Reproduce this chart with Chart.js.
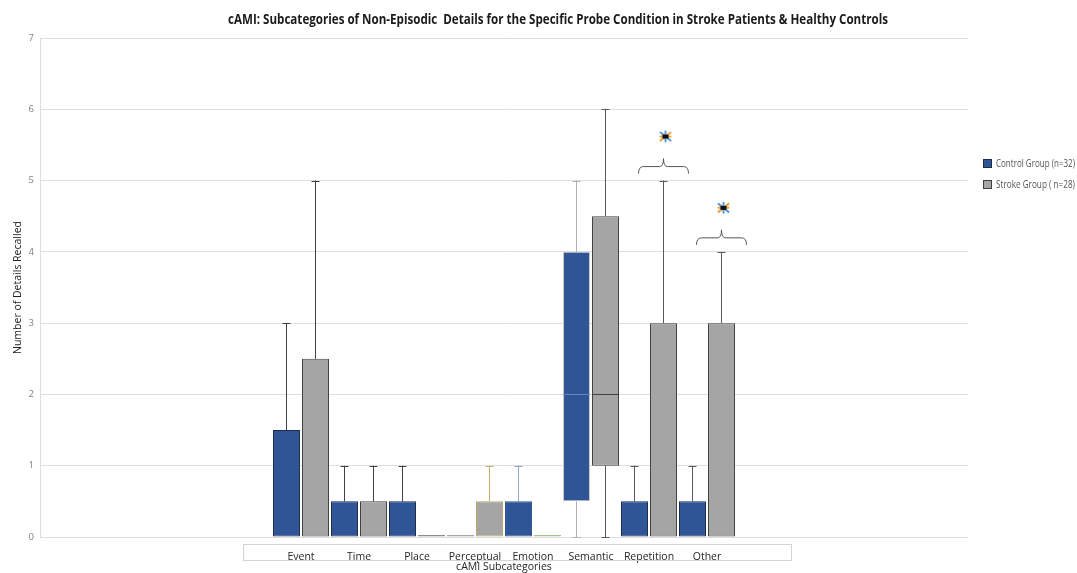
<!DOCTYPE html>
<html>
<head>
<meta charset="utf-8">
<script src="https://cdn.jsdelivr.net/npm/chart.js@4.4.1/dist/chart.umd.min.js"></script>
<style>
  html, body { margin: 0; padding: 0; background: #ffffff; }
  #wrap { width: 1077px; height: 573px; position: relative; }
</style>
</head>
<body>
<div id="wrap"><canvas id="c" width="1077" height="573"></canvas></div>
<script>
// Subcategories of non-episodic details (cAMI, specific probe condition)
const categories = ['Event', 'Time', 'Place', 'Perceptual', 'Emotion', 'Semantic', 'Repetition', 'Other'];

// Control group (n=32): box (Q1..Q3), median, whisker range
const controlQ1     = [0,   0,   0,   0, 0,   0.5, 0,   0  ];
const controlQ3     = [1.5, 0.5, 0.5, 0, 0.5, 4,   0.5, 0.5];
const controlMedian = [0,   0,   0,   0, 0,   2,   0,   0  ];
const controlMin    = [0,   0,   0,   0, 0,   0,   0,   0  ];
const controlMax    = [3,   1,   1,   0, 1,   5,   1,   1  ];

// Stroke group (n=28)
const strokeQ1     = [0,   0,   0, 0,   0, 1,   0, 0];
const strokeQ3     = [2.5, 0.5, 0, 0.5, 0, 4.5, 3, 3];
const strokeMedian = [0,   0,   0, 0,   0, 2,   0, 0];
const strokeMin    = [0,   0,   0, 0,   0, 0,   0, 0];
const strokeMax    = [5,   1,   0, 1,   0, 6,   5, 4];

// Group differences marked as significant
const significant = [false, false, false, false, false, false, true, true];

const yTicks = [0, 1, 2, 3, 4, 5, 6, 7];

// Empty slots on either side of the categories on the x axis
const PAD = 4;
const padArr = (arr, fill) => Array(PAD).fill(fill).concat(arr).concat(Array(PAD).fill(fill));
const labels = padArr(categories, '');

const FONT = "'Open Sans', 'Noto Sans', sans-serif";

const controlBorder  = ['#1c2b47', '#1c2b47', '#1c2b47', '#a6a6a6', '#2f5597', '#c8c8c8', '#1c2b47', '#1c2b47'];
const strokeBorder   = ['#404040', '#404040', '#8c8c8c', '#c0a462', '#a9c08a', '#404040', '#404040', '#404040'];
const controlWhisker = ['#404040', '#404040', '#404040', '#a6a6a6', '#8ea9cf', '#b0b0b0', '#595959', '#595959'];
const strokeWhisker  = ['#404040', '#404040', '#8c8c8c', '#c9ad6a', '#a9c08a', '#595959', '#595959', '#595959'];

const groups = [
  { q1: controlQ1, q3: controlQ3, med: controlMedian, lo: controlMin, hi: controlMax, whisker: controlWhisker, medColor: '#6f84ad' },
  { q1: strokeQ1,  q3: strokeQ3,  med: strokeMedian,  lo: strokeMin,  hi: strokeMax,  whisker: strokeWhisker,  medColor: '#404040' }
];

// Whiskers with end caps, drawn behind the boxes
const whiskerPlugin = {
  id: 'whiskers',
  beforeDatasetsDraw(chart) {
    const ctx = chart.ctx, y = chart.scales.y;
    groups.forEach((g, di) => {
      const meta = chart.getDatasetMeta(di);
      categories.forEach((_, k) => {
        const el = meta.data[k + PAD];
        if (!el) return;
        const x = el.x;
        ctx.save();
        ctx.strokeStyle = g.whisker[k];
        ctx.lineWidth = 1;
        const segs = [];
        if (g.hi[k] > g.q3[k]) segs.push([g.q3[k], g.hi[k]]);
        if (g.lo[k] < g.q1[k]) segs.push([g.lo[k], g.q1[k]]);
        segs.forEach(([a, b]) => {
          ctx.beginPath();
          ctx.moveTo(x, y.getPixelForValue(a));
          ctx.lineTo(x, y.getPixelForValue(b));
          ctx.stroke();
        });
        const caps = [];
        if (g.hi[k] > g.q3[k]) caps.push(g.hi[k]);
        if (g.lo[k] < g.q1[k]) caps.push(g.lo[k]);
        caps.forEach(v => {
          const py = Math.round(y.getPixelForValue(v)) + 0.5;
          ctx.beginPath();
          ctx.moveTo(x - 4, py);
          ctx.lineTo(x + 4, py);
          ctx.stroke();
        });
        ctx.restore();
      });
    });
  },
  afterDatasetsDraw(chart) {
    const ctx = chart.ctx, y = chart.scales.y;
    groups.forEach((g, di) => {
      const meta = chart.getDatasetMeta(di);
      categories.forEach((_, k) => {
        const el = meta.data[k + PAD];
        if (!el) return;
        if (!(g.med[k] > g.q1[k] && g.med[k] < g.q3[k])) return;
        const py = Math.round(y.getPixelForValue(g.med[k])) + 0.5;
        ctx.save();
        ctx.strokeStyle = g.medColor;
        ctx.lineWidth = 1;
        ctx.beginPath();
        ctx.moveTo(el.x - el.width / 2, py);
        ctx.lineTo(el.x + el.width / 2, py);
        ctx.stroke();
        ctx.restore();
      });
    });
  }
};

// Brace and star above the stroke-group whisker where the difference is significant
function drawStar(ctx, cx, cy) {
  ctx.save();
  ctx.lineWidth = 2;
  ctx.lineCap = 'round';
  ctx.strokeStyle = '#5b9bd5';
  ctx.beginPath(); ctx.moveTo(cx - 5, cy - 4); ctx.lineTo(cx + 5, cy + 4); ctx.stroke();
  ctx.beginPath(); ctx.moveTo(cx, cy - 5); ctx.lineTo(cx, cy + 5); ctx.stroke();
  ctx.strokeStyle = '#f0a040';
  ctx.beginPath(); ctx.moveTo(cx + 5, cy - 4); ctx.lineTo(cx - 5, cy + 4); ctx.stroke();
  ctx.beginPath(); ctx.moveTo(cx - 5, cy); ctx.lineTo(cx + 5, cy); ctx.stroke();
  ctx.fillStyle = '#111111';
  ctx.fillRect(cx - 3, cy - 2, 6, 4);
  ctx.restore();
}

const sigPlugin = {
  id: 'significance',
  afterDatasetsDraw(chart) {
    const ctx = chart.ctx, y = chart.scales.y;
    const meta = chart.getDatasetMeta(1);
    categories.forEach((_, k) => {
      if (!significant[k]) return;
      const el = meta.data[k + PAD];
      const x = el.x;
      const top = y.getPixelForValue(Math.max(strokeMax[k], controlMax[k]));
      const endY = top - 7, midY = top - 14, tipY = top - 22, w = 25;
      ctx.save();
      ctx.strokeStyle = '#555555';
      ctx.lineWidth = 1;
      ctx.beginPath();
      ctx.moveTo(x - w, endY);
      ctx.quadraticCurveTo(x - w, midY, x - w + 5, midY);
      ctx.lineTo(x - 4, midY);
      ctx.quadraticCurveTo(x, midY, x, tipY);
      ctx.quadraticCurveTo(x, midY, x + 4, midY);
      ctx.lineTo(x + w - 5, midY);
      ctx.quadraticCurveTo(x + w, midY, x + w, endY);
      ctx.stroke();
      ctx.restore();
      drawStar(ctx, x + 2, top - 44);
    });
  }
};

// Title, legend and the frame around the category labels
const decorPlugin = {
  id: 'decor',
  afterDraw(chart) {
    const ctx = chart.ctx, xs = chart.scales.x;
    ctx.save();
    ctx.fillStyle = '#1a1a1a';
    ctx.font = `bold 14px ${FONT}`;
    ctx.textAlign = 'center';
    ctx.textBaseline = 'middle';
    ctx.fillText('cAMI: Subcategories of Non-Episodic  Details for the Specific Probe Condition in Stroke Patients & Healthy Controls', 558, 20, 660);

    // frame around category labels
    const step = xs.getPixelForValue(1) - xs.getPixelForValue(0);
    const left = Math.round(xs.getPixelForValue(PAD - 1)) + 0.5;
    const right = Math.round(xs.getPixelForValue(PAD + categories.length) + 0.45 * step) + 0.5;
    ctx.strokeStyle = '#d4d4d4';
    ctx.lineWidth = 1;
    ctx.strokeRect(left, 544.5, right - left, 16);

    // legend
    const items = [
      { text: 'Control Group (n=32)', fill: '#2f5597', border: '#1c2b47' },
      { text: 'Stroke Group ( n=28)', fill: '#a5a5a5', border: '#404040' }
    ];
    ctx.font = `10px ${FONT}`;
    ctx.textAlign = 'left';
    items.forEach((it, i) => {
      const yy = 164 + i * 21;
      ctx.fillStyle = it.fill;
      ctx.fillRect(983, yy - 4, 8, 8);
      ctx.strokeStyle = it.border;
      ctx.strokeRect(983.5, yy - 4.5, 8, 8);
      ctx.fillStyle = '#555555';
      ctx.fillText(it.text, 996, yy, 79);
    });
    ctx.restore();
  }
};

new Chart(document.getElementById('c'), {
  type: 'bar',
  data: {
    labels: labels,
    datasets: [
      {
        label: 'Control Group (n=32)',
        data: padArr(categories.map((_, k) => [controlQ1[k], controlQ3[k]]), null),
        backgroundColor: '#2f5597',
        borderColor: padArr(controlBorder, '#000'),
        borderWidth: 1,
        borderSkipped: false,
        minBarLength: 2
      },
      {
        label: 'Stroke Group ( n=28)',
        data: padArr(categories.map((_, k) => [strokeQ1[k], strokeQ3[k]]), null),
        backgroundColor: '#a5a5a5',
        borderColor: padArr(strokeBorder, '#000'),
        borderWidth: 1,
        borderSkipped: false,
        minBarLength: 2
      }
    ]
  },
  options: {
    responsive: false,
    animation: false,
    devicePixelRatio: 1,
    layout: { padding: { left: 12, right: 109, top: 38, bottom: 0 } },
    categoryPercentage: 1.0,
    barPercentage: 0.93,
    plugins: {
      legend: { display: false },
      title: { display: false },
      tooltip: { enabled: false }
    },
    scales: {
      x: {
        grid: { display: false, drawTicks: false },
        border: { display: false },
        ticks: {
          autoSkip: false, maxRotation: 0, padding: 14,
          color: '#262626', font: { family: FONT, size: 10.5 }
        },
        title: {
          display: true, text: 'cAMI Subcategories', color: '#262626',
          font: { family: FONT, size: 10.5 }, padding: { top: 0, bottom: 0 }
        },
        afterFit(scale) { scale.height = 36; }
      },
      y: {
        min: 0, max: 7,
        afterBuildTicks(scale) { scale.ticks = yTicks.map(v => ({ value: v })); },
        grid: { color: '#dedede', drawTicks: false },
        border: { display: true, color: '#dedede' },
        ticks: { padding: 6, color: '#808080', font: { family: FONT, size: 9.5 } },
        title: {
          display: true, text: 'Number of Details Recalled', color: '#222222',
          font: { family: FONT, size: 10.5 }, padding: { top: 0, bottom: 0 }
        },
        afterFit(scale) { scale.width = 28; }
      }
    }
  },
  plugins: [whiskerPlugin, sigPlugin, decorPlugin]
});
</script>
</body>
</html>
